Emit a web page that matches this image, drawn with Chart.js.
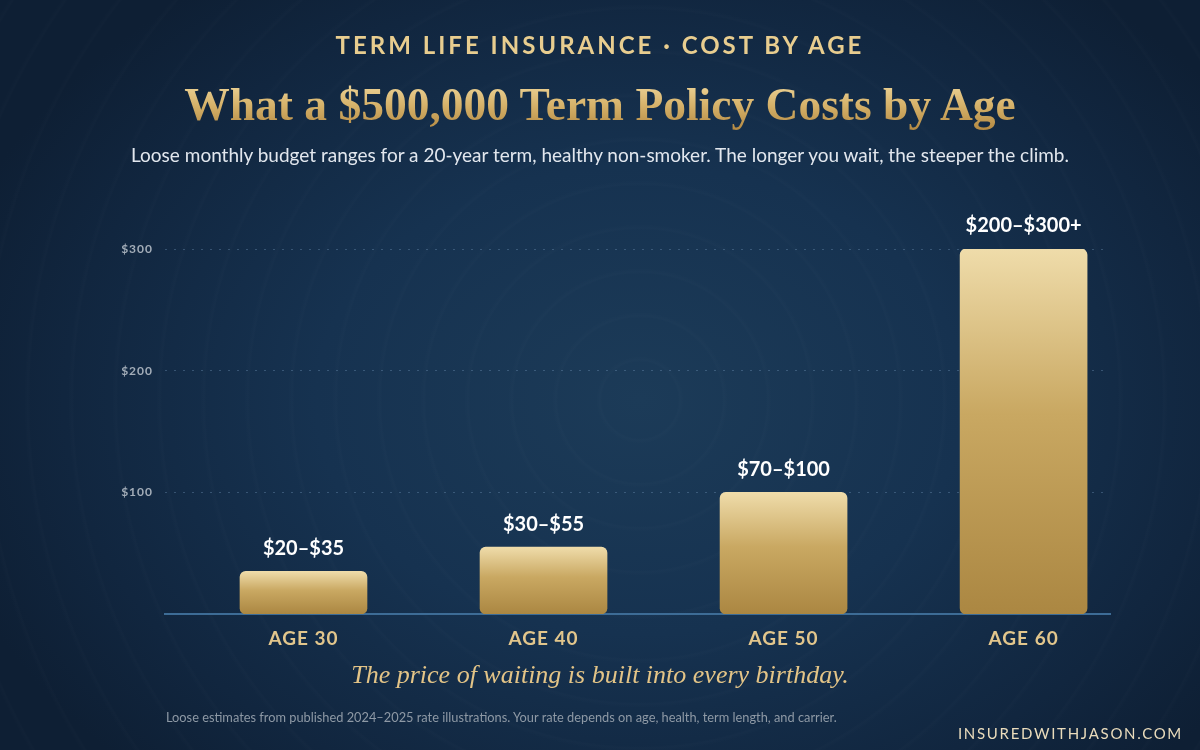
<!DOCTYPE html>
<html>
<head>
<meta charset="utf-8">
<script src="https://cdn.jsdelivr.net/npm/chart.js@4.4.1/dist/chart.umd.min.js"></script>
<style>
  html, body { margin: 0; padding: 0; }
  body {
    width: 1200px; height: 750px; overflow: hidden; position: relative;
    background:
      repeating-radial-gradient(circle at 640px 400px, rgba(255,255,255,0.0) 0px, rgba(255,255,255,0.0) 38px, rgba(255,255,255,0.010) 40px, rgba(255,255,255,0.0) 44px),
      radial-gradient(ellipse 720px 520px at 640px 400px, #1c3b58 0%, #163250 45%, #11263f 80%, #0e1f34 100%);
    font-family: Lato, "Noto Sans", sans-serif;
  }
  #wrap { position: absolute; left: 0; top: 0; width: 1200px; height: 750px; }
  .txt { position: absolute; left: 0; width: 1200px; text-align: center; white-space: nowrap; }
  #eyebrow { top: 30px; font-size: 24px; font-weight: 700; letter-spacing: 3px; color: #e8cd8f; line-height: 30px; }
  #title {
    top: 77px; font-family: "Liberation Serif", "DejaVu Serif", serif; font-weight: 700; font-size: 45.5px; line-height: 56px;
    background: linear-gradient(180deg, #f4dea6 0%, #d6b26a 50%, #b0853e 100%);
    -webkit-background-clip: text; background-clip: text; color: transparent;
    left: 50%; width: auto; transform: translateX(-50%);
  }
  #subtitle { top: 143px; font-size: 19px; color: #e2e7ee; line-height: 24px; }
  #caption { top: 659px; font-family: "Liberation Serif", "DejaVu Serif", serif; font-style: italic; font-size: 26px; color: #e3c487; line-height: 32px; }
  #note { left: 166px; top: 709px; width: auto; text-align: left; font-size: 12.8px; color: #8e99a5; line-height: 16px; }
  #brand { left: auto; right: 17px; top: 723px; width: auto; text-align: right; font-size: 15px; letter-spacing: 1.7px; color: #eadcbc; line-height: 20px; }
  canvas { position: absolute; left: 0; top: 0; }
</style>
</head>
<body>
<div id="wrap"><canvas id="c" width="1200" height="750"></canvas></div>
<div class="txt" id="eyebrow">TERM LIFE INSURANCE · COST BY AGE</div>
<div class="txt" id="title">What a $500,000 Term Policy Costs by Age</div>
<div class="txt" id="subtitle">Loose monthly budget ranges for a 20-year term, healthy non-smoker. The longer you wait, the steeper the climb.</div>
<div class="txt" id="caption">The price of waiting is built into every birthday.</div>
<div class="txt" id="note">Loose estimates from published 2024–2025 rate illustrations. Your rate depends on age, health, term length, and carrier.</div>
<div class="txt" id="brand">INSUREDWITHJASON.COM</div>
<script>
const categories = ["AGE 30", "AGE 40", "AGE 50", "AGE 60"];
const upperCost = [35, 55, 100, 300];
const rangeLabels = ["$20–$35", "$30–$55", "$70–$100", "$200–$300+"];
const yTickValues = [100, 200, 300];

const barLabelPlugin = {
  id: 'barLabels',
  afterDatasetsDraw(chart) {
    const ctx = chart.ctx;
    const meta = chart.getDatasetMeta(0);
    ctx.save();
    ctx.font = '700 20px Lato, "Noto Sans", sans-serif';
    ctx.fillStyle = '#ffffff';
    ctx.textAlign = 'center';
    ctx.textBaseline = 'middle';
    meta.data.forEach((el, i) => {
      ctx.fillText(rangeLabels[i], el.x, el.y - 23);
    });
    ctx.restore();
  }
};

const spacingPlugin = {
  id: 'tickSpacing',
  beforeDraw(chart) { chart.ctx.letterSpacing = '1px'; },
  beforeDatasetsDraw(chart) { chart.ctx.letterSpacing = '0px'; }
};

function barGradient(context) {
  const chart = context.chart;
  const area = chart.chartArea;
  if (!area || context.type !== 'data') return '#c9a560';
  const y = chart.scales.y;
  const top = y.getPixelForValue(context.parsed.y);
  const base = y.getPixelForValue(0);
  const g = chart.ctx.createLinearGradient(0, top, 0, base);
  g.addColorStop(0, '#efdcaa');
  g.addColorStop(0.45, '#c9a862');
  g.addColorStop(1, '#ab8742');
  return g;
}

new Chart(document.getElementById('c'), {
  type: 'bar',
  data: {
    datasets: [{
      data: upperCost.map((v, i) => ({ x: i, y: v })),
      backgroundColor: barGradient,
      borderRadius: 6,
      borderSkipped: false,
      barThickness: 127
    }]
  },
  plugins: [spacingPlugin, barLabelPlugin],
  options: {
    responsive: false,
    animation: false,
    events: [],
    layout: { padding: { left: 0, right: 90, top: 249, bottom: 96 } },
    plugins: { legend: { display: false }, tooltip: { enabled: false } },
    scales: {
      x: {
        type: 'linear',
        min: -0.577,
        max: 3.36,
        offset: false,
        afterBuildTicks(scale) { scale.ticks = categories.map((c, i) => ({ value: i })); },
        afterFit(scale) { scale.height = 40; },
        grid: { display: false, drawTicks: false },
        border: { display: true, color: '#3d6c96', width: 2 },
        ticks: {
          callback: (v) => categories[v],
          color: '#e2c68c',
          font: { family: 'Lato, "Noto Sans", sans-serif', size: 19, weight: '700' },
          padding: 13,
          maxRotation: 0,
          autoSkip: false
        }
      },
      y: {
        min: 0,
        max: 300,
        afterBuildTicks(scale) { scale.ticks = yTickValues.map(v => ({ value: v })); },
        afterFit(scale) { scale.width = 165; },
        grid: { color: 'rgba(110,145,180,0.40)', lineWidth: 1, drawTicks: false },
        border: { display: false, dash: [2, 7] },
        ticks: {
          callback: (v) => '$' + v,
          color: '#a3adb8',
          font: { family: 'Lato, "Noto Sans", sans-serif', size: 12, weight: '700' },
          padding: 12
        }
      }
    }
  }
});
</script>
</body>
</html>
